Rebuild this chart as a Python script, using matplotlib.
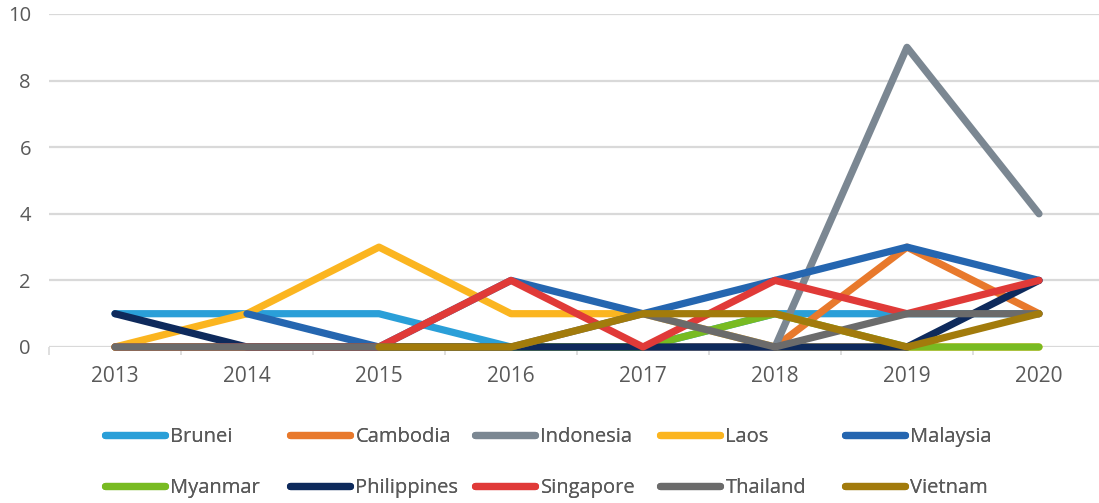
import numpy as np
import matplotlib
matplotlib.use("Agg")
import matplotlib.pyplot as plt

years = ["2013", "2014", "2015", "2016", "2017", "2018", "2019", "2020"]

brunei = [1, 1, 1, 0, 0, 1, 1, 1]
cambodia = [0, 0, 0, 0, 0, 0, 3, 1]
indonesia = [0, 0, 0, 0, 0, 0, 9, 4]
laos = [0, 1, 3, 1, 1, 0, 0, 0]
malaysia = [np.nan, 1, 0, 2, 1, 2, 3, 2]
myanmar = [0, 0, 0, 0, 0, 1, 0, 0]
philippines = [1, 0, 0, 0, 0, 0, 0, 2]
singapore = [0, 0, 0, 2, 0, 2, 1, 2]
thailand = [0, 0, 0, 0, 1, 0, 1, 1]
vietnam = [np.nan, np.nan, 0, 0, 1, 1, 0, 1]

names = ["Brunei", "Cambodia", "Indonesia", "Laos", "Malaysia",
         "Myanmar", "Philippines", "Singapore", "Thailand", "Vietnam"]
series = [brunei, cambodia, indonesia, laos, malaysia,
          myanmar, philippines, singapore, thailand, vietnam]
colors = ["#2a9fd8", "#e8792c", "#7b8792", "#fbb520", "#2566b0",
          "#78bb22", "#0e2a5c", "#e03a38", "#6b6b6b", "#a27b0c"]

TXT = "#595959"
plt.rcParams["font.family"] = ["Open Sans", "DejaVu Sans"]


def main():
	fig = plt.figure(figsize=(10.99, 5.03), dpi=100)
	ax = fig.add_axes([49 / 1099, 156 / 503, 1056 / 1099, 333 / 503])

	x = np.arange(len(years))
	lines = []
	for vals, name, c in zip(series, names, colors):
		ln, = ax.plot(x, vals, color=c, lw=5.2, label=name,
			solid_capstyle="round", solid_joinstyle="round", clip_on=False, zorder=3)
		lines.append(ln)

	ax.set_xlim(-0.5, 7.5)
	ax.set_ylim(0, 10)
	ax.set_yticks(range(0, 11, 2))
	ax.set_xticks(x)
	ax.set_xticklabels(years)
	ax.set_xticks(np.arange(-0.5, 8, 1), minor=True)

	for s in ax.spines.values():
		s.set_visible(False)
	ax.grid(axis="y", color="#d9d9d9", lw=1.6, zorder=0)

	ax.tick_params(axis="x", which="major", length=0, pad=14, labelsize=15, labelcolor=TXT)
	ax.tick_params(axis="x", which="minor", length=6, width=1.2, color="#d9d9d9")
	ax.tick_params(axis="y", length=0, pad=13, labelsize=14.5, labelcolor=TXT)

	# one small legend per entry, to keep the even column spacing
	xs = [105, 290, 475, 660, 845]
	ys = [437, 488]
	for i, ln in enumerate(lines):
		px = xs[i % 5]
		py = ys[i // 5]
		leg = fig.legend([ln], [names[i]], loc="center left",
			bbox_to_anchor=(px / 1099, 1 - py / 503), frameon=False,
			borderpad=0, borderaxespad=0, handlelength=3.0, handletextpad=0.25,
			fontsize=14.5, labelcolor=TXT)
		fig.add_artist(leg)

	plt.savefig("out.png", dpi=100)


if __name__ == '__main__':
	main()
